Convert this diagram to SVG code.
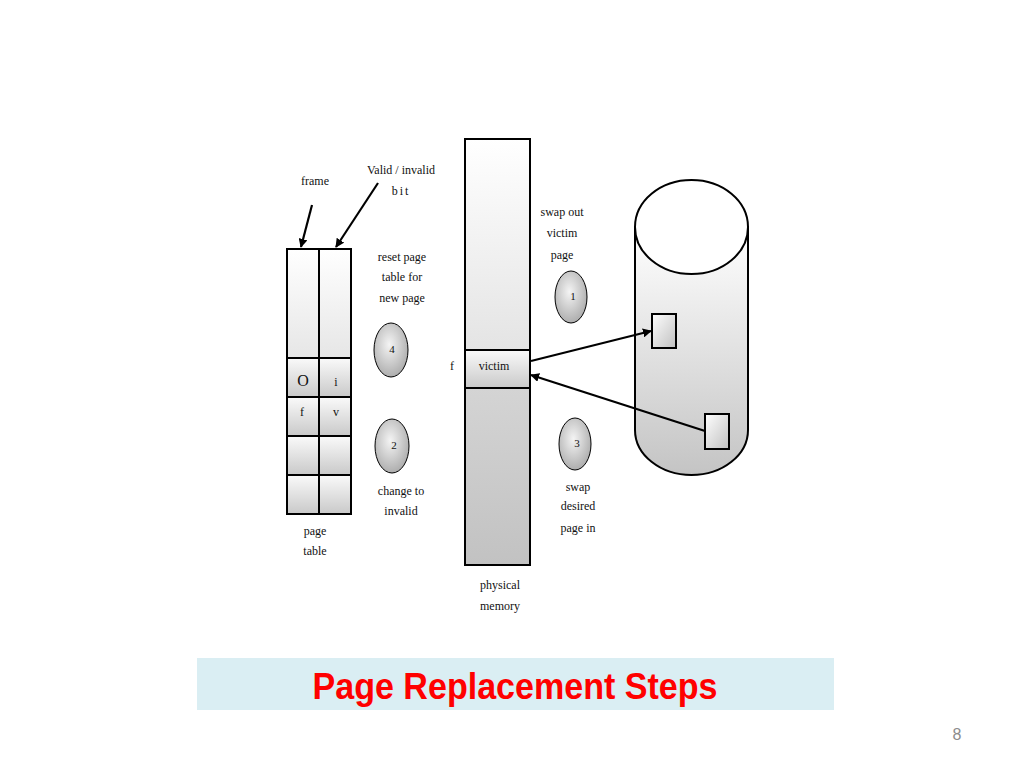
<svg xmlns="http://www.w3.org/2000/svg" width="1024" height="768" viewBox="0 0 1024 768">
<defs>
<linearGradient id="cell" x1="0" y1="0" x2="0" y2="1"><stop offset="0" stop-color="#fafafa"/><stop offset="1" stop-color="#c9c9c9"/></linearGradient>
<linearGradient id="topcell" x1="0" y1="0" x2="0" y2="1"><stop offset="0" stop-color="#ffffff"/><stop offset="1" stop-color="#e6e6e6"/></linearGradient>
<linearGradient id="memTop" x1="0" y1="0" x2="0" y2="1"><stop offset="0" stop-color="#ffffff"/><stop offset="1" stop-color="#e4e4e4"/></linearGradient>
<linearGradient id="memBot" x1="0" y1="0" x2="0" y2="1"><stop offset="0" stop-color="#d4d4d4"/><stop offset="1" stop-color="#c2c2c2"/></linearGradient>
<linearGradient id="cyl" x1="0" y1="0" x2="0" y2="1"><stop offset="0" stop-color="#ffffff"/><stop offset="1" stop-color="#c4c4c4"/></linearGradient>
<linearGradient id="sq" x1="0" y1="0" x2="1" y2="1"><stop offset="0" stop-color="#ffffff"/><stop offset="1" stop-color="#c0c0c0"/></linearGradient>
<radialGradient id="ell" cx="0.45" cy="0.4" r="0.65"><stop offset="0" stop-color="#f4f4f4"/><stop offset="1" stop-color="#a8a8a8"/></radialGradient>
<marker id="ah" viewBox="0 0 10 10" refX="9" refY="5" markerWidth="9" markerHeight="9" orient="auto-start-reverse" markerUnits="userSpaceOnUse"><path d="M0,0 L10,5 L0,10 z" fill="#000"/></marker>
</defs>
<style>
.t{font-family:"Liberation Serif",serif;font-size:12px;fill:#111;text-anchor:middle}
.n{font-family:"Liberation Serif",serif;font-size:11px;fill:#111;text-anchor:middle}
.b{stroke:#000;stroke-width:2}
.ln{stroke:#000;stroke-width:2.2;fill:none}
</style>
<rect width="1024" height="768" fill="#fff"/>

<g id="page-table">
<rect x="287" y="249" width="32" height="109" fill="url(#topcell)" class="b"/>
<rect x="319" y="249" width="32" height="109" fill="url(#topcell)" class="b"/>
<rect x="287" y="358" width="32" height="39" fill="url(#cell)" class="b"/>
<rect x="319" y="358" width="32" height="39" fill="url(#cell)" class="b"/>
<rect x="287" y="397" width="32" height="39" fill="url(#cell)" class="b"/>
<rect x="319" y="397" width="32" height="39" fill="url(#cell)" class="b"/>
<rect x="287" y="436" width="32" height="39" fill="url(#cell)" class="b"/>
<rect x="319" y="436" width="32" height="39" fill="url(#cell)" class="b"/>
<rect x="287" y="475" width="32" height="39" fill="url(#cell)" class="b"/>
<rect x="319" y="475" width="32" height="39" fill="url(#cell)" class="b"/>
<text class="t" x="303" y="386" style="font-size:16px">O</text>
<text class="t" x="336" y="386">i</text>
<text class="t" x="302" y="416">f</text>
<text class="t" x="336" y="416">v</text>
<text class="t" x="315" y="535">page</text>
<text class="t" x="315" y="555">table</text>
</g>

<g id="labels-left">
<text class="t" x="315" y="185">frame</text>
<text class="t" x="401" y="174">Valid / invalid</text>
<text class="t" x="401" y="195" style="letter-spacing:2px">bit</text>
<text class="t" x="402" y="261">reset page</text>
<text class="t" x="402" y="281">table for</text>
<text class="t" x="402" y="302">new page</text>
<text class="t" x="401" y="495">change to</text>
<text class="t" x="401" y="515">invalid</text>
</g>

<g id="step4"><ellipse cx="391" cy="350" rx="17" ry="27" fill="url(#ell)" stroke="#000" stroke-width="1"/><text class="n" x="392" y="353">4</text></g>
<g id="step2"><ellipse cx="392" cy="446" rx="17" ry="27" fill="url(#ell)" stroke="#000" stroke-width="1"/><text class="n" x="394" y="449">2</text></g>
<g id="step1"><ellipse cx="571" cy="297" rx="16" ry="26" fill="url(#ell)" stroke="#000" stroke-width="1"/><text class="n" x="573" y="300">1</text></g>
<g id="step3"><ellipse cx="575" cy="444" rx="16" ry="26" fill="url(#ell)" stroke="#000" stroke-width="1"/><text class="n" x="577" y="447">3</text></g>

<g id="physical-memory">
<rect x="465" y="139" width="65" height="211" fill="url(#memTop)" class="b"/>
<rect x="465" y="350" width="65" height="38" fill="url(#cell)" class="b"/>
<rect x="465" y="388" width="65" height="177" fill="url(#memBot)" class="b"/>
<text class="t" x="494" y="370">victim</text>
<text class="t" x="452" y="370">f</text>
<text class="t" x="500" y="589">physical</text>
<text class="t" x="500" y="610">memory</text>
</g>

<g id="labels-right">
<text class="t" x="562" y="216">swap out</text>
<text class="t" x="562" y="237">victim</text>
<text class="t" x="562" y="259">page</text>
<text class="t" x="578" y="491">swap</text>
<text class="t" x="578" y="510">desired</text>
<text class="t" x="578" y="532">page in</text>
</g>

<g id="disk">
<path d="M635,227 L635,430 A56.5,45 0 0 0 748,430 L748,227 Z" fill="url(#cyl)" class="b"/>
<ellipse cx="691.5" cy="227" rx="56.5" ry="47" fill="#fff" class="b"/>
<rect x="652" y="314" width="24" height="34" fill="url(#sq)" class="b"/>
<rect x="705" y="414" width="24" height="35" fill="url(#sq)" class="b"/>
</g>

<g id="connectors">
<line x1="312" y1="205" x2="301" y2="247" class="ln" marker-end="url(#ah)"/>
<line x1="378" y1="183" x2="336" y2="247" class="ln" marker-end="url(#ah)"/>
<line x1="531" y1="361" x2="651" y2="331" class="ln" marker-end="url(#ah)"/>
<line x1="705" y1="431" x2="531" y2="375" class="ln" marker-end="url(#ah)"/>
</g>

<g id="title">
<rect x="197" y="658" width="637" height="52" fill="#daeef3"/>
<text x="515" y="699" textLength="405" lengthAdjust="spacingAndGlyphs" style="font-family:'Liberation Sans',Arial,sans-serif;font-weight:bold;font-size:36px;fill:#ff0000;text-anchor:middle">Page Replacement Steps</text>
</g>
<text x="957" y="740" style="font-family:'Liberation Sans',Arial,sans-serif;font-size:16px;fill:#8c8c8c;text-anchor:middle">8</text>
</svg>
